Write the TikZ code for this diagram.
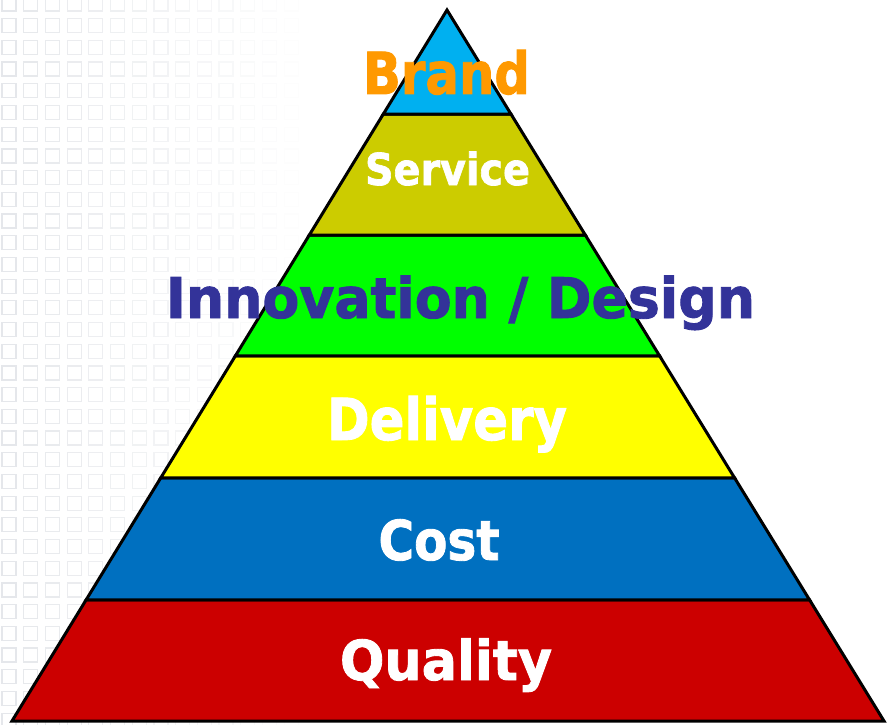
\documentclass[tikz,border=0pt]{standalone}
\usepackage{fontspec}
\usepackage{graphicx}
\usetikzlibrary{calc}
\newfontfamily\lblfont{DejaVu Sans}[BoldFeatures={FakeBold=1.6}]
\definecolor{brandfill}{HTML}{00B0F0}
\definecolor{brandtext}{HTML}{FF9900}
\definecolor{servicefill}{HTML}{CCCC00}
\definecolor{innofill}{HTML}{00FF00}
\definecolor{innotext}{HTML}{333399}
\definecolor{deliveryfill}{HTML}{FFFF00}
\definecolor{costfill}{HTML}{0070C0}
\definecolor{qualityfill}{HTML}{CC0000}
\definecolor{gridgray}{HTML}{CDD1D8}
\tikzset{
  band/.style={draw=black, line width=3pt, line join=miter},
  lbl/.style={anchor=base, inner sep=0pt, outer sep=0pt},
  gridsq/.style={draw=gridgray, line width=1.2pt}
}
\newcommand{\fitlabel}[3]{\resizebox{#1pt}{\height}{\lblfont\bfseries\fontsize{#2}{#2}\selectfont #3}}
\begin{document}
\begin{tikzpicture}[x=1pt,y=-1pt]
\useasboundingbox (0,0) rectangle (887,725);
\fill[white] (0,0) rectangle (887,725);
% faint background grid
\foreach \i in {0,...,14}{
  \foreach \j in {0,...,33}{
    \pgfmathsetmacro{\xx}{2+21.7*\i}
    \pgfmathsetmacro{\yy}{-3+21.7*\j}
    \pgfmathsetmacro{\op}{max(0,0.5-0.036*\i)}
    \draw[gridsq, opacity=\op] (\xx,\yy) rectangle ++(14,14);
  }
}
% pyramid corners
\coordinate (apex) at (447,10);
\coordinate (bl) at (12,721);
\coordinate (br) at (884,721);
% level points
\foreach \n/\t in {a/0.1463, b/0.3165, c/0.4866, d/0.6582, e/0.8298}{
  \coordinate (L\n) at ($(apex)!\t!(bl)$);
  \coordinate (R\n) at ($(apex)!\t!(br)$);
}
\draw[band, fill=qualityfill] (Le) -- (bl) -- (br) -- (Re) -- cycle;
\draw[band, fill=costfill] (Ld) -- (Le) -- (Re) -- (Rd) -- cycle;
\draw[band, fill=deliveryfill] (Lc) -- (Ld) -- (Rd) -- (Rc) -- cycle;
\draw[band, fill=innofill] (Lb) -- (Lc) -- (Rc) -- (Rb) -- cycle;
\draw[band, fill=servicefill] (La) -- (Lb) -- (Rb) -- (Ra) -- cycle;
\draw[band, fill=brandfill] (apex) -- (La) -- (Ra) -- cycle;
% labels
\node[lbl, text=brandtext] (brand) at (446.5,94) {\fitlabel{167}{58}{Brand}};
\node[lbl, text=white] (service) at (447.5,185) {\fitlabel{165}{44}{Service}};
\node[lbl, text=innotext] (innovation) at (460.5,318) {\fitlabel{589}{56}{Innovation / Design}};
\node[lbl, text=white] (delivery) at (447,440) {\fitlabel{240}{58}{Delivery}};
\node[lbl, text=white] (cost) at (439,560) {\fitlabel{121}{55}{Cost}};
\node[lbl, text=white] (quality) at (446,680) {\fitlabel{212}{55}{Quality}};
\end{tikzpicture}
\end{document}
